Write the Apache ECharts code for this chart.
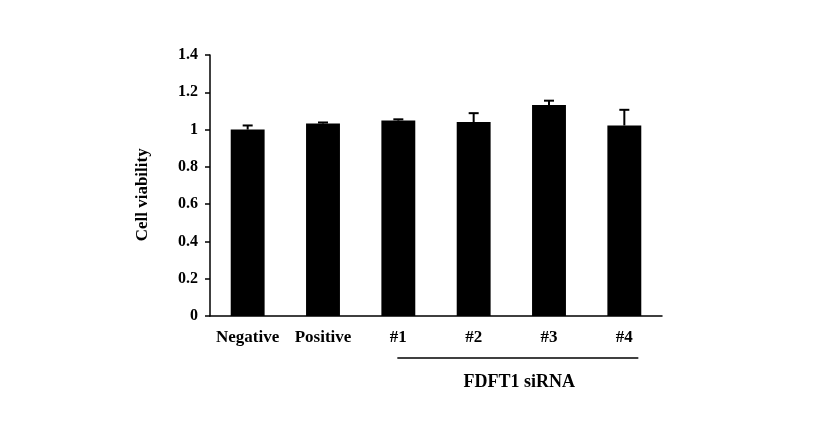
<!DOCTYPE html>
<html><head><meta charset="utf-8">
<script src="https://cdn.jsdelivr.net/npm/echarts@6/dist/echarts.min.js"></script>
<style>html,body{margin:0;padding:0;background:#fff}#c{width:831px;height:439px}</style>
</head><body><div id="c"></div>
<script>
const categories = ['Negative', 'Positive', '#1', '#2', '#3', '#4'];
const values = [1.0, 1.032, 1.048, 1.04, 1.132, 1.022];
const errors = [0.022, 0.006, 0.007, 0.048, 0.023, 0.084];
const yTicks = [0, 0.2, 0.4, 0.6, 0.8, 1, 1.2, 1.4];
const yTitle = 'Cell viability';
const groupLabel = 'FDFT1 siRNA';
const groupFrom = '#1', groupTo = '#4';

const font = '"Liberation Serif", "Times New Roman", serif';
const chart = echarts.init(document.getElementById('c'));
chart.setOption({
  backgroundColor: '#fff',
  animation: false,
  grid: { left: 210, top: 55, right: 169, bottom: 123 },
  xAxis: {
    type: 'category', data: categories,
    axisLine: { lineStyle: { color: '#000', width: 1.5 } },
    axisTick: { show: false },
    axisLabel: { color: '#000', fontFamily: font, fontWeight: 'bold', fontSize: 17, margin: 13,
      interval: 0, hideOverlap: false }
  },
  yAxis: {
    type: 'value', min: 0, max: 1.4, interval: 0.2,
    axisLine: { show: true, lineStyle: { color: '#000', width: 1.5 } },
    axisTick: { show: true, length: 5, lineStyle: { color: '#000', width: 1.5 } },
    splitLine: { show: false },
    axisLabel: { color: '#000', fontFamily: font, fontWeight: 'bold', fontSize: 16, margin: 12,
      formatter: v => String(yTicks.find(t => Math.abs(t - v) < 1e-9) ?? v) }
  },
  series: [
    { type: 'bar', data: values, barWidth: '45%', itemStyle: { color: '#000' } },
    { type: 'custom', data: values.map((v, i) => [i, v, errors[i]]),
      renderItem: (params, api) => {
        const i = api.value(0), v = api.value(1), e = api.value(2);
        const p0 = api.coord([i, v]);
        const p1 = api.coord([i, v + e]);
        const hw = 5;
        return { type: 'group', children: [
          { type: 'line', shape: { x1: p0[0], y1: p0[1], x2: p1[0], y2: p1[1] }, style: { stroke: '#000', lineWidth: 2 } },
          { type: 'line', shape: { x1: p1[0] - hw, y1: p1[1], x2: p1[0] + hw, y2: p1[1] }, style: { stroke: '#000', lineWidth: 2 } }
        ]};
      }, z: 3 }
  ]
});
const a = chart.convertToPixel({ xAxisIndex: 0 }, groupFrom);
const b = chart.convertToPixel({ xAxisIndex: 0 }, groupTo);
const y0 = chart.convertToPixel({ yAxisIndex: 0 }, 0);
const yMid = chart.convertToPixel({ yAxisIndex: 0 }, 0.65);
chart.setOption({
  graphic: [
    { type: 'text', x: 143, y: yMid, rotation: Math.PI / 2,
      style: { text: yTitle, fill: '#000', font: 'bold 17px ' + font, align: 'center', verticalAlign: 'middle' } },
    { type: 'line', shape: { x1: a - 1, y1: y0 + 42, x2: b + 14, y2: y0 + 42 }, style: { stroke: '#000', lineWidth: 1.5 } },
    { type: 'text', x: (a + b) / 2 + 8, y: y0 + 66, style: { text: groupLabel, fill: '#000', font: 'bold 18px ' + font, align: 'center', verticalAlign: 'middle' } }
  ]
});
</script></body></html>
